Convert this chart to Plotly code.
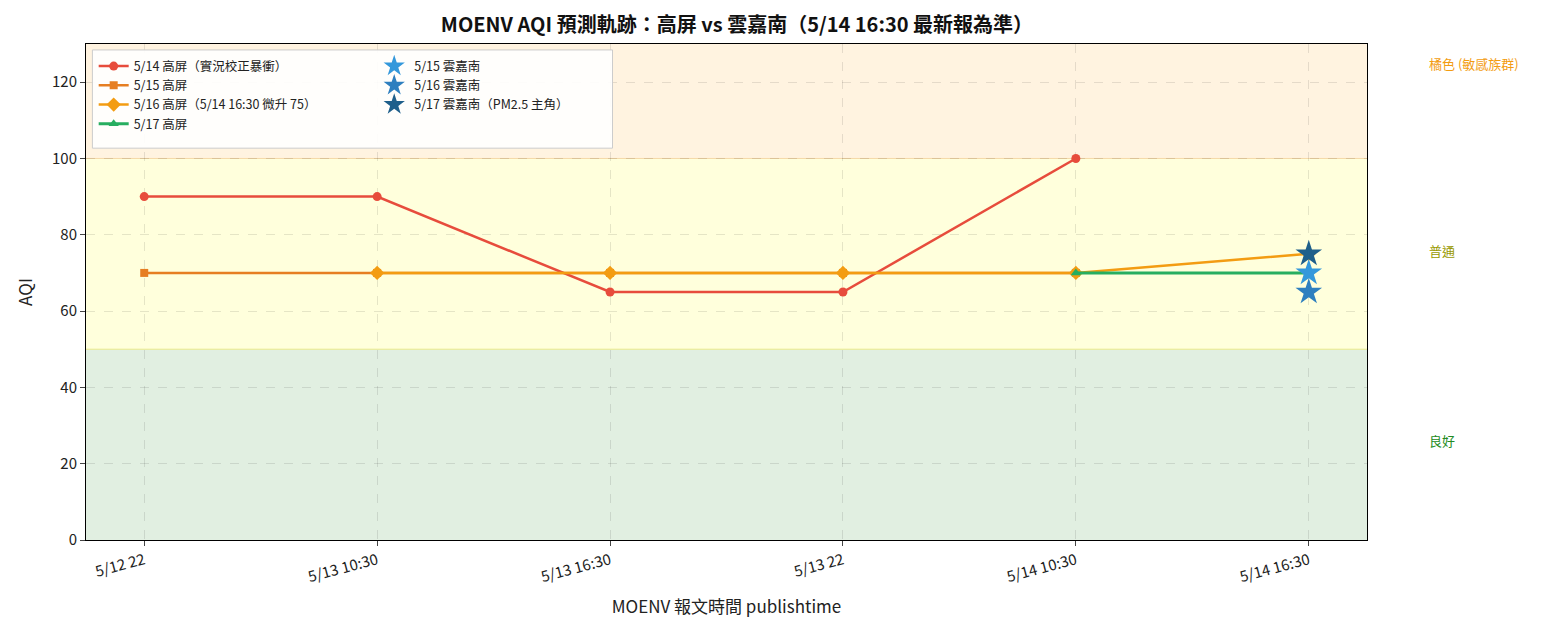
import plotly.graph_objects as go

times = ["5/12 22", "5/13 10:30", "5/13 16:30", "5/13 22", "5/14 10:30", "5/14 16:30"]
kp_514 = [90, 90, 65, 65, 100, None]
kp_515 = [70, 70, 70, 70, 70, None]
kp_516 = [None, 70, 70, 70, 70, 75]
kp_517 = [None, None, None, None, 70, 70]
ycn_515 = [70]
ycn_516 = [65]
ycn_517 = [75]
ycn_x = ["5/14 16:30"]

fig = go.Figure()
xi = list(range(len(times)))
def idx(lst):
    return [times.index(t) for t in lst]

fig.add_trace(go.Scatter(x=xi, y=kp_514, name="5/14 高屏（實況校正暴衝）", mode="lines+markers",
    line=dict(color="#e74c3c", width=2.5), marker=dict(symbol="circle", size=9)))
fig.add_trace(go.Scatter(x=xi, y=kp_515, name="5/15 高屏", mode="lines+markers",
    line=dict(color="#e67e22", width=2.5), marker=dict(symbol="square", size=8)))
fig.add_trace(go.Scatter(x=xi, y=kp_516, name="5/16 高屏（5/14 16:30 微升 75）", mode="lines+markers",
    line=dict(color="#f39c12", width=2.5), marker=dict(symbol="diamond", size=11)))
fig.add_trace(go.Scatter(x=xi, y=kp_517, name="5/17 高屏", mode="lines+markers",
    line=dict(color="#27ae60", width=3), marker=dict(symbol="triangle-up", size=9)))
for vals, nm, c in [(ycn_515, "5/15 雲嘉南", "#3498db"), (ycn_516, "5/16 雲嘉南", "#2e7fbf"),
                    (ycn_517, "5/17 雲嘉南（PM2.5 主角）", "#1f5f8b")]:
    fig.add_trace(go.Scatter(x=idx(ycn_x), y=vals, name=nm, mode="markers", legend="legend2",
        marker=dict(symbol="star", size=20, color=c, line=dict(width=0))))

shapes = []
for y0, y1, col in [(0, 50, "#e1efe1"), (50, 100, "#ffffdc"), (100, 130, "#fff3e0")]:
    shapes.append(dict(type="rect", xref="paper", yref="y", x0=0, x1=1, y0=y0, y1=y1,
                       fillcolor=col, line=dict(width=0), layer="below"))
for yv, lc in [(50, "#e8e88a"), (100, "#f5d9a8")]:
    shapes.append(dict(type="line", xref="paper", yref="y", x0=0, x1=1, y0=yv, y1=yv,
                       line=dict(color=lc, width=1), layer="below"))
annotations = [
    dict(xref="paper", yref="y", x=1.047, y=125, text="橘色 (敏感族群)", showarrow=False, xanchor="left",
         font=dict(color="#f39c12", size=13)),
    dict(xref="paper", yref="y", x=1.047, y=76, text="普通", showarrow=False, xanchor="left",
         font=dict(color="#999900", size=13)),
    dict(xref="paper", yref="y", x=1.047, y=26, text="良好", showarrow=False, xanchor="left",
         font=dict(color="#228b22", size=13)),
]

legstyle = dict(yanchor="top", bgcolor="rgba(255,255,255,0)", borderwidth=0,
                font=dict(size=12.5), tracegroupgap=0)
fig.update_layout(
    width=1551, height=635, margin=dict(l=78, r=192, t=36, b=103),
    paper_bgcolor="white", plot_bgcolor="white",
    font=dict(family="Noto Sans CJK TC", size=14, color="#222"),
    title=dict(text="<b>MOENV AQI 預測軌跡：高屏 vs 雲嘉南（5/14 16:30 最新報為準）</b>", x=0.47, y=0.985,
               xanchor="center", yanchor="top", font=dict(size=20, color="#111")),
    shapes=shapes + [dict(type="rect", xref="paper", yref="paper", x0=0.005, x1=0.411, y0=0.79, y1=0.988,
                          fillcolor="rgba(255,255,255,0.9)", line=dict(color="#ccc", width=1))],
    annotations=annotations,
    legend=dict(x=0.006, y=0.985, xanchor="left", **legstyle),
    legend2=dict(x=0.225, y=0.985, xanchor="left", **legstyle),
    xaxis=dict(range=[-0.25, 5.25], tickmode="array", tickvals=xi, ticktext=times, tickangle=-15,
               title=dict(text="MOENV 報文時間 publishtime", font=dict(size=17)),
               showgrid=True, gridcolor="rgba(0,0,0,0.1)", griddash="dash", showline=True, mirror=True,
               linecolor="black", ticks="outside", zeroline=False, tickfont=dict(size=15)),
    yaxis=dict(range=[0, 130], dtick=20, title=dict(text="AQI", font=dict(size=17)),
               showgrid=True, gridcolor="rgba(0,0,0,0.1)", griddash="dash", showline=True, mirror=True,
               linecolor="black", ticks="outside", zeroline=False, tickfont=dict(size=15)),
)
fig.write_html("out.html")
